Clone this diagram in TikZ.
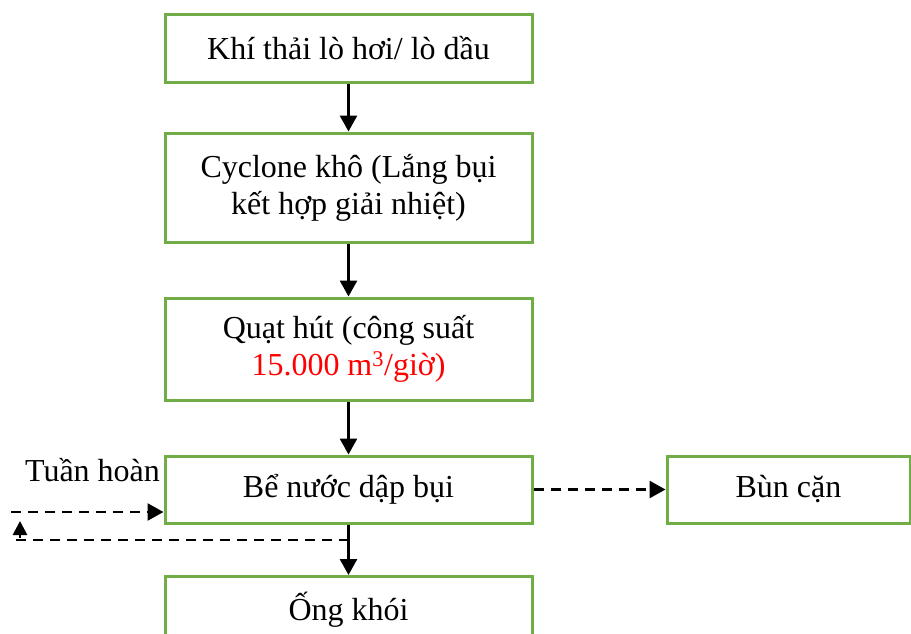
\documentclass[tikz,border=0pt]{standalone}
\usepackage{fontspec}
\setmainfont{Liberation Serif}
\usetikzlibrary{arrows.meta}
\definecolor{boxgreen}{RGB}{112,173,71}
\begin{document}
\begin{tikzpicture}[x=1pt,y=-1pt,
  flowbox/.style={draw=boxgreen,line width=3pt,fill=white,minimum width=367pt,inner sep=0pt,align=center,font=\fontsize{32}{37}\selectfont},
  flowarrow/.style={line width=2.7pt,-{Triangle[length=16pt,width=17pt]}},
  dasharrow/.style={line width=2.7pt,dash pattern=on 10pt off 7pt,-{Triangle[length=16pt,width=17pt]}},
  dashline/.style={line width=2.7pt,dash pattern=on 10pt off 7pt}]
\useasboundingbox (0,0) rectangle (911,633);
\node[flowbox,minimum height=68pt] (b1) at (348.5,48) {Khí thải lò hơi/ lò dầu};
\node[flowbox,minimum height=109pt] (b2) at (348.5,187.5) {Cyclone khô (Lắng bụi\\kết hợp giải nhiệt)};
\node[flowbox,minimum height=102pt] (b3) at (348.5,349) {Quạt hút (công suất\\\textcolor{red}{15.000 m\textsuperscript{3}/giờ)}};
\node[flowbox,minimum height=67pt] (b4) at (348.5,489.5) {Bể nước dập bụi};
\node[flowbox,minimum height=67pt] (b5) at (348.5,610) {Ống khói};
\node[flowbox,minimum width=243pt,minimum height=67pt] (b6) at (788.5,489.5) {Bùn cặn};
\node[font=\fontsize{32}{37}\selectfont,anchor=center] (th) at (92.5,470) {Tuần hoàn};
\draw[flowarrow] (b1) -- (b2);
\draw[flowarrow] (b2) -- (b3);
\draw[flowarrow] (b3) -- (b4);
\draw[flowarrow] (b4) -- (b5);
\draw[dasharrow] (b4) -- (b6);
\coordinate (r1) at (348.5,540);
\coordinate (r2) at (14,540);
\coordinate (r3) at (20,538);
\coordinate (r4) at (20,521);
\coordinate (r5) at (11,512);
\draw[dashline] (r1) -- (r2);
\draw[line width=2.7pt,-{Triangle[length=14pt,width=14pt]}] (r3) -- (r4);
\draw[dasharrow] (r5) -- (b4.west |- r5);
\end{tikzpicture}
\end{document}
